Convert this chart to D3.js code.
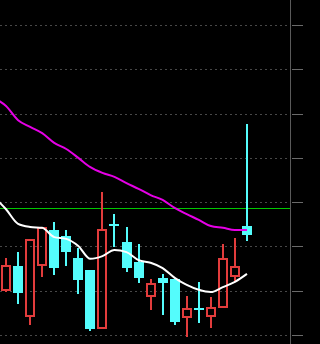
<!DOCTYPE html>
<html>
<head>
<meta charset="utf-8">
<script src="https://cdn.jsdelivr.net/npm/d3@7"></script>
<style>
  body { margin: 0; background: #000; }
  svg { display: block; }
</style>
</head>
<body>
<script>
// daily bars, oldest first
var opens  = [10.99, 11.56, 10.41, 11.56, 12.37, 12.24, 11.74, 11.47, 10.14, 12.51, 12.10,
              11.65, 10.86, 11.29, 11.26, 10.38, 10.62, 10.41, 10.61, 11.31, 12.46];
var highs  = [11.74, 11.87, 12.17, 12.44, 12.55, 12.37, 11.96, 11.47, 13.23, 12.74, 12.44,
              12.06, 11.26, 11.38, 11.26, 10.88, 11.20, 10.86, 12.06, 12.19, 14.76];
var lows   = [10.97, 10.70, 10.23, 11.31, 11.36, 11.56, 10.93, 10.09, 10.14, 11.99, 11.42,
              11.17, 10.56, 10.45, 10.23,  9.95, 10.27, 10.16, 10.61, 11.20, 12.12];
var closes = [11.58, 10.95, 12.17, 12.44, 11.51, 11.87, 11.24, 10.14, 12.39, 12.49, 11.51,
              11.29, 11.17, 11.17, 10.29, 10.61, 10.60, 10.63, 11.74, 11.56, 12.26];

// moving averages, first value belongs to the bar just before the window
var maShort = [13.12, 12.84, 12.51, 12.44, 12.42, 12.21, 12.17, 12.01, 11.72, 11.78, 11.92,
               11.87, 11.69, 11.63, 11.51, 11.29, 11.13, 11.02, 10.97, 11.08, 11.20, 11.38];
var maLong  = [15.35, 15.17, 14.85, 14.70, 14.56, 14.34, 14.20, 14.00, 13.79, 13.66, 13.57,
               13.43, 13.30, 13.16, 13.05, 12.87, 12.73, 12.60, 12.46, 12.42, 12.37, 12.37];

var refPrice = 12.87;
var gridTicks = [10, 11, 12, 13, 14, 15, 16, 17];

var width = 320, height = 344;
var plotRight = 290;

var svg = d3.select("body").append("svg")
    .attr("width", width)
    .attr("height", height)
    .style("background", "#000");

var x = d3.scaleLinear().domain([-0.5, opens.length - 0.5]).range([0, 253]);
var y = d3.scaleLinear().domain([10, 17]).range([335, 25]);

svg.append("clipPath").attr("id", "plot")
  .append("rect").attr("x", 0).attr("y", 0).attr("width", plotRight).attr("height", height);

// dotted grid
svg.selectAll(".grid")
   .data(gridTicks)
   .enter()
   .append("line")
   .attr("x1", 0)
   .attr("x2", plotRight - 2)
   .attr("y1", function(d) { return Math.round(y(d)) + 0.5; })
   .attr("y2", function(d) { return Math.round(y(d)) + 0.5; })
   .style("stroke", "#484848")
   .style("stroke-dasharray", "2,3");

// right axis
svg.append("line")
   .attr("x1", plotRight + 0.5).attr("x2", plotRight + 0.5)
   .attr("y1", 0).attr("y2", height)
   .style("stroke", "#5a5a5a");

svg.selectAll(".tick")
   .data(gridTicks)
   .enter()
   .append("line")
   .attr("x1", plotRight + 2)
   .attr("x2", plotRight + 13)
   .attr("y1", function(d) { return Math.round(y(d)) + 0.5; })
   .attr("y2", function(d) { return Math.round(y(d)) + 0.5; })
   .style("stroke", "#6a6a6a");

// reference price line
svg.append("line")
   .attr("x1", 0).attr("x2", plotRight)
   .attr("y1", Math.round(y(refPrice)) + 0.5)
   .attr("y2", Math.round(y(refPrice)) + 0.5)
   .style("stroke", "#00c800");

var bars = [];
for (i = 0; i < opens.length; i++) {
  bars.push({i: i, o: opens[i], h: highs[i], l: lows[i], c: closes[i]});
}

var up = "#e23c3c", down = "#54fcfc";
var g = svg.append("g").attr("clip-path", "url(#plot)");

bars.forEach(function(d) {
  var cx = Math.round(x(d.i));
  var top = Math.round(y(Math.max(d.o, d.c)));
  var bot = Math.round(y(Math.min(d.o, d.c)));
  var left = Math.round(x(d.i) - 5);
  if (d.c > d.o) {
    // hollow red: wick only outside the body
    g.append("line").attr("x1", cx).attr("x2", cx)
     .attr("y1", Math.round(y(d.h))).attr("y2", top)
     .style("stroke", up).style("stroke-width", 2);
    g.append("line").attr("x1", cx).attr("x2", cx)
     .attr("y1", bot).attr("y2", Math.round(y(d.l)))
     .style("stroke", up).style("stroke-width", 2);
    g.append("rect")
     .attr("x", left + 1).attr("y", top + 1)
     .attr("width", 8).attr("height", Math.max(bot - top - 2, 1))
     .style("fill", "none").style("stroke", up).style("stroke-width", 2);
  } else {
    g.append("line").attr("x1", cx).attr("x2", cx)
     .attr("y1", Math.round(y(d.h))).attr("y2", Math.round(y(d.l)))
     .style("stroke", down).style("stroke-width", 2);
    g.append("rect")
     .attr("x", left).attr("y", top)
     .attr("width", 10).attr("height", Math.max(bot - top, 2))
     .style("fill", down);
  }
});

// moving averages
var line = d3.line()
  .x(function(d, k) { return x(k - 1); })
  .y(function(d) { return y(d); })
  .curve(d3.curveMonotoneX);

g.append("path").datum(maLong)
 .attr("d", line)
 .style("fill", "none").style("stroke", "#e600e6").style("stroke-width", 2);

g.append("path").datum(maShort)
 .attr("d", line)
 .style("fill", "none").style("stroke", "#ffffff").style("stroke-width", 2);
</script>
</body>
</html>
